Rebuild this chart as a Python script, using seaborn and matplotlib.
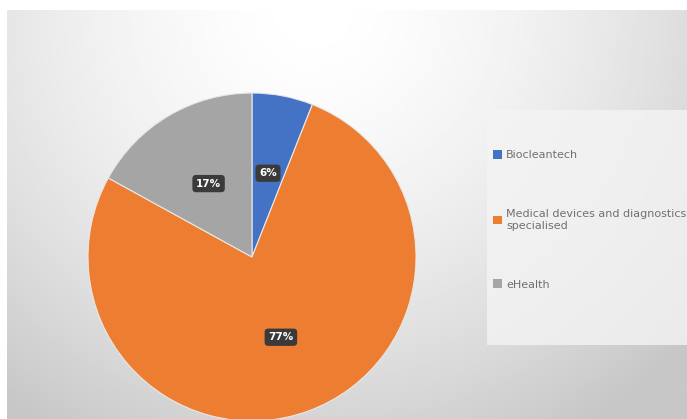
import numpy as np
import matplotlib
matplotlib.use("Agg")
import matplotlib.pyplot as plt
import seaborn as sns
from matplotlib.patches import Rectangle

sectors = ["Biocleantech", "Medical devices and diagnostics\nspecialised", "eHealth"]
shares = [6, 77, 17]
colors = sns.color_palette(["#4472C4", "#ED7D31", "#A5A5A5"])

sns.set_style("white")
fig = plt.figure(figsize=(6.87, 4.19), dpi=100)
fig.patch.set_facecolor("white")

# gradient background (excel style), white margin top/left
bg = fig.add_axes([7 / 687, 0, 680 / 687, 409 / 419])
yy, xx = np.mgrid[0:1:200j, 0:1:300j]
r = np.sqrt(((xx - 0.45) / 0.75) ** 2 + ((yy - 0.0) / 1.2) ** 2)
shade = 1.0 - 0.22 * np.clip(r, 0, 1) ** 1.6
bg.imshow(shade, cmap="gray", vmin=0, vmax=1, aspect="auto", extent=[0, 1, 1, 0])
bg.set_axis_off()

# lighter legend panel
fig.patches.append(Rectangle((487 / 687, (419 - 345) / 419), 200 / 687, 235 / 419,
                             transform=fig.transFigure, fc="#f4f4f4", ec="none",
                             alpha=0.8, zorder=1))

ax = fig.add_axes([(252 - 164) / 687, (419 - 257 - 164) / 419, 328 / 687, 328 / 419])
wedges, texts, autotexts = ax.pie(
    shares, colors=colors, startangle=90, counterclock=False,
    autopct="%d%%", pctdistance=0.52, radius=1.0,
    wedgeprops=dict(linewidth=0.8, edgecolor="#e8e8e8"),
    textprops=dict(color="white", fontsize=7.5, fontweight="bold"))
for t in autotexts:
    t.set_bbox(dict(boxstyle="round,pad=0.35", fc="#3a3a3a", ec="none"))
ax.set_xlim(-1, 1)
ax.set_ylim(-1, 1)
ax.set_aspect("equal")

leg = fig.legend(wedges, sectors, loc="upper left",
                 bbox_to_anchor=(483 / 687, (419 - 140) / 419),
                 frameon=False, fontsize=8, labelcolor="#707070",
                 handlelength=0.8, handleheight=0.8, handletextpad=0.4,
                 labelspacing=4.4)
for h in leg.legend_handles:
    h.set_edgecolor("none")

fig.savefig("out.png", dpi=100)
